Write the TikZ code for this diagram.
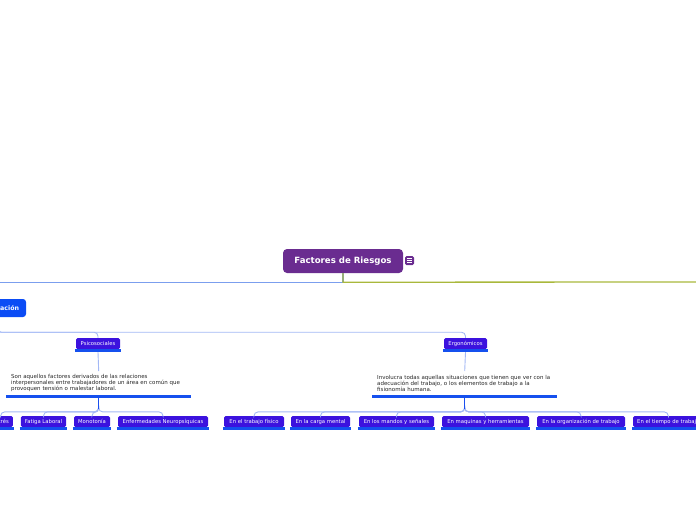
\documentclass[tikz,border=0pt]{standalone}
\usepackage{fontspec}
\setmainfont{DejaVu Sans}
\definecolor{rootc}{HTML}{6A2C90}
\definecolor{clasc}{HTML}{0B4CF5}
\definecolor{leafc}{HTML}{3C12DE}
\definecolor{barc}{HTML}{1550EE}
\definecolor{lightl}{HTML}{A3B8F5}
\definecolor{topblue}{HTML}{7B9EEE}
\definecolor{olivel}{HTML}{A9B83C}
\definecolor{hubc}{HTML}{1A4FEF}
\begin{document}
\begin{tikzpicture}[x=1pt,y=-1pt,
  rootbox/.style={fill=rootc, rounded corners=4pt, minimum width=120pt, minimum height=24pt, text=white, font=\fontsize{8.6}{9}\selectfont\bfseries, inner sep=0pt},
  clasbox/.style={fill=clasc, rounded corners=3pt, minimum width=58pt, minimum height=18pt, text=white, font=\fontsize{6.3}{7}\selectfont\bfseries, inner sep=0pt},
  leaf/.style={fill=leafc, rounded corners=1.5pt, minimum height=11pt, text=white, font=\fontsize{5.3}{6}\selectfont, inner xsep=4pt, inner ysep=0pt, text height=4pt, text depth=1pt},
  para/.style={anchor=north west, align=left, inner xsep=5pt, inner ysep=0pt, text width=180pt, minimum height=23.5pt, font=\fontsize{5.5}{6}\selectfont, text=black!85},
  bar/.style={draw=barc, line width=2.5pt},
  pbar/.style={draw=barc, line width=3pt},
  branch/.style={draw=lightl, line width=0.9pt, rounded corners=4pt},
  hub/.style={draw=hubc, line width=1.2pt},
  topline/.style={draw=topblue, line width=1.3pt},
  oliveline/.style={draw=olivel, line width=1.3pt}
]
\useasboundingbox (0,0) rectangle (696,520);
\clip (0,0) rectangle (696,520);

% root
\node[rootbox] (root) at (343,261) {Factores de Riesgos};
\node[fill=rootc, rounded corners=1.5pt, minimum width=9pt, minimum height=9pt, inner sep=0pt,
  path picture={\foreach \dy in {-2,0,2}{\draw[white, line width=0.6pt] ([xshift=-2.3pt,yshift=\dy pt]path picture bounding box.center) -- ++(4.6pt,0);}}] (icon) at (409.5,260.5) {};

\node[clasbox] (clas) at (-3,308) {Clasificación};
\coordinate (rightend) at (740,282);

\draw[topline] (root.south) -- ++(0,9) -| (clas.north);
\draw[oliveline] (root.south) -- ++(0,9) -- (rightend);

% level 2
\node[leaf, minimum width=44pt] (psico) at (98,343.5) {Psicosociales};
\node[leaf, minimum width=43pt] (ergo) at (465.5,343.5) {Ergonómicos};

\draw[branch] (clas.south) -- ++(0,15) -| (psico.north);
\draw[branch] (clas.south) -- ++(0,15) -| (ergo.north);

% paragraphs
\node[para, text width=175pt] (p1) at (6,371) {Son aquellos factores derivados de las relaciones\\ interpersonales entre trabajadores de un área en común que\\ provoquen tensión o malestar laboral.};
\node[para, text width=175pt] (p2) at (372,371) {Involucra todas aquellas situaciones que tienen que ver con la\\ adecuación del trabajo, o los elementos de trabajo a la\\ fisionomía humana.};

\draw[branch] ([yshift=-3pt]psico.south) -- (p1.north);
\draw[branch] ([yshift=-3pt]ergo.south) -- (p2.north);

\draw[pbar] ([yshift=-1.5pt]p1.south west) -- ([yshift=-1.5pt]p1.south east);
\draw[pbar] ([yshift=-1.5pt]p2.south west) -- ([yshift=-1.5pt]p2.south east);

% leaves
\node[leaf, anchor=east] (l0) at (13,421.5) {Estrés};
\node[leaf, minimum width=45pt] (l1) at (43.5,421.5) {Fatiga Laboral};
\node[leaf, minimum width=36pt] (l2) at (92,421.5) {Monotonía};
\node[leaf, minimum width=90pt] (l3) at (163,421.5) {Enfermedades Neuropsíquicas};
\node[leaf, minimum width=60pt] (r1) at (254,421.5) {En el trabajo físico};
\node[leaf, minimum width=59pt] (r2) at (320.5,421.5) {En la carga mental};
\node[leaf, minimum width=75pt] (r3) at (396.5,421.5) {En los mandos y señales};
\node[leaf, minimum width=87pt] (r4) at (485.5,421.5) {En maquinas y herramientas};
\node[leaf, minimum width=88pt] (r5) at (581,421.5) {En la organización de trabajo};
\node[leaf, anchor=west] (r6) at (633,421.5) {En el tiempo de trabajo};

\coordinate (h1) at ([yshift=-3pt]p1.south);
\coordinate (h2) at ([yshift=-3pt]p2.south);
\coordinate (h1b) at ([yshift=-11pt]h1);
\coordinate (h2b) at ([yshift=-11pt]h2);

\foreach \n in {l0,l1,l2,l3} \draw[branch] (h1b) -- ++(0,3) -| (\n.north);
\foreach \n in {r1,r2,r3,r4,r5,r6} \draw[branch] (h2b) -- ++(0,3) -| (\n.north);
\draw[hub] (h1) -- (h1b);
\draw[hub] (h2) -- (h2b);

\foreach \n in {psico,ergo,l0,l1,l2,l3,r1,r2,r3,r4,r5,r6}
  \draw[bar] ([xshift=-1pt,yshift=-1.3pt]\n.south west) -- ([xshift=1pt,yshift=-1.3pt]\n.south east);
\end{tikzpicture}
\end{document}
